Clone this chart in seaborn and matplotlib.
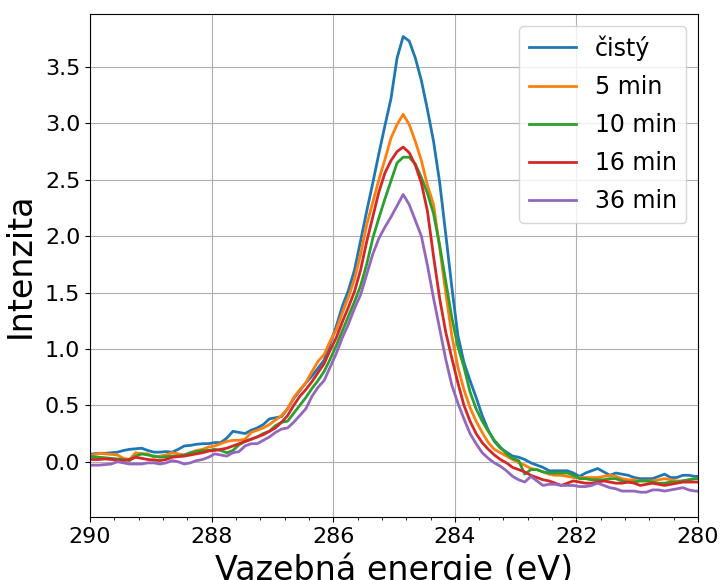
import numpy as np
import pandas as pd
import matplotlib
matplotlib.use("Agg")
import matplotlib.pyplot as plt
from matplotlib.ticker import AutoMinorLocator, MultipleLocator
import seaborn as sns

# binding energy grid (eV), 0.1 eV step
energy = np.round(np.linspace(290.05, 279.95, 102), 2)

cisty = [0.06, 0.07, 0.075, 0.075, 0.08, 0.085, 0.10, 0.11, 0.115, 0.12,
         0.10, 0.085, 0.085, 0.09, 0.085, 0.11, 0.14, 0.145, 0.155, 0.16,
         0.16, 0.17, 0.17, 0.21, 0.27, 0.26, 0.25, 0.28, 0.30, 0.33,
         0.38, 0.39, 0.40, 0.47, 0.56, 0.63, 0.70, 0.76, 0.83, 0.90,
         1.05, 1.20, 1.38, 1.52, 1.70, 1.96, 2.22, 2.47, 2.73, 2.98,
         3.22, 3.58, 3.77, 3.73, 3.58, 3.38, 3.12, 2.84, 2.48, 2.02,
         1.55, 1.12, 0.88, 0.72, 0.57, 0.41, 0.28, 0.18, 0.12, 0.085,
         0.05, 0.04, 0.02, -0.01, -0.03, -0.05, -0.08, -0.08, -0.08, -0.08,
         -0.10, -0.13, -0.10, -0.08, -0.06, -0.09, -0.12, -0.10, -0.11, -0.12,
         -0.14, -0.15, -0.15, -0.15, -0.13, -0.11, -0.14, -0.14, -0.12, -0.12,
         -0.13, -0.13]

min5 = [0.04, 0.06, 0.075, 0.07, 0.065, 0.06, 0.03, 0.02, 0.08, 0.07,
        0.07, 0.04, 0.05, 0.06, 0.08, 0.07, 0.06, 0.08, 0.10, 0.11,
        0.13, 0.14, 0.16, 0.18, 0.19, 0.19, 0.20, 0.26, 0.28, 0.30,
        0.33, 0.37, 0.41, 0.47, 0.57, 0.64, 0.70, 0.80, 0.89, 0.95,
        1.07, 1.17, 1.32, 1.46, 1.62, 1.84, 2.10, 2.30, 2.50, 2.68,
        2.87, 2.99, 3.08, 2.99, 2.84, 2.67, 2.45, 2.28, 1.90, 1.50,
        1.12, 0.84, 0.64, 0.48, 0.36, 0.26, 0.17, 0.11, 0.08, 0.05,
        0.02, -0.01, -0.03, -0.06, -0.07, -0.09, -0.11, -0.12, -0.12, -0.13,
        -0.14, -0.14, -0.14, -0.14, -0.14, -0.13, -0.12, -0.13, -0.15, -0.16,
        -0.16, -0.17, -0.17, -0.17, -0.16, -0.15, -0.16, -0.17, -0.17, -0.16,
        -0.15, -0.15]

min10 = [0.05, 0.045, 0.04, 0.035, 0.03, 0.025, 0.02, 0.01, 0.05, 0.07,
         0.06, 0.05, 0.04, 0.045, 0.05, 0.05, 0.06, 0.08, 0.09, 0.10,
         0.10, 0.11, 0.10, 0.08, 0.10, 0.15, 0.18, 0.20, 0.22, 0.25,
         0.27, 0.32, 0.35, 0.36, 0.43, 0.50, 0.57, 0.65, 0.72, 0.80,
         0.91, 1.03, 1.16, 1.29, 1.42, 1.56, 1.75, 1.98, 2.16, 2.33,
         2.49, 2.65, 2.70, 2.70, 2.64, 2.52, 2.38, 2.20, 1.92, 1.60,
         1.28, 1.02, 0.84, 0.62, 0.47, 0.36, 0.27, 0.19, 0.13, 0.07,
         0.03, 0.01, -0.11, -0.07, -0.07, -0.09, -0.10, -0.10, -0.10, -0.10,
         -0.12, -0.15, -0.15, -0.16, -0.16, -0.16, -0.15, -0.15, -0.17, -0.18,
         -0.18, -0.17, -0.17, -0.18, -0.19, -0.19, -0.18, -0.18, -0.17, -0.16,
         -0.15, -0.15]

min16 = [0.02, 0.02, 0.02, 0.025, 0.02, 0.015, 0.01, 0.02, 0.04, 0.03,
         0.02, 0.015, 0.01, 0.02, 0.04, 0.045, 0.05, 0.06, 0.07, 0.08,
         0.095, 0.10, 0.11, 0.12, 0.14, 0.16, 0.18, 0.20, 0.22, 0.24,
         0.27, 0.30, 0.35, 0.41, 0.50, 0.58, 0.64, 0.71, 0.79, 0.87,
         0.99, 1.10, 1.24, 1.37, 1.51, 1.70, 1.95, 2.17, 2.39, 2.56,
         2.67, 2.75, 2.79, 2.74, 2.63, 2.47, 2.22, 1.82, 1.45, 1.15,
         0.92, 0.70, 0.50, 0.36, 0.25, 0.17, 0.11, 0.06, 0.02, -0.01,
         -0.05, -0.07, -0.09, -0.12, -0.14, -0.16, -0.17, -0.19, -0.21, -0.19,
         -0.17, -0.18, -0.19, -0.19, -0.18, -0.17, -0.18, -0.19, -0.19, -0.18,
         -0.19, -0.21, -0.20, -0.19, -0.20, -0.21, -0.20, -0.19, -0.18, -0.18,
         -0.18, -0.18]

min36 = [-0.03, -0.03, -0.03, -0.025, -0.02, 0.0, -0.01, -0.02, -0.02, -0.02,
         -0.01, -0.01, -0.02, -0.01, 0.01, 0.0, -0.02, -0.01, 0.01, 0.02,
         0.04, 0.07, 0.06, 0.05, 0.08, 0.09, 0.14, 0.16, 0.16, 0.19,
         0.22, 0.26, 0.29, 0.30, 0.35, 0.41, 0.47, 0.58, 0.66, 0.72,
         0.84, 0.96, 1.10, 1.22, 1.36, 1.48, 1.66, 1.84, 1.98, 2.08,
         2.17, 2.27, 2.37, 2.28, 2.14, 2.00, 1.74, 1.45, 1.18, 0.91,
         0.68, 0.52, 0.38, 0.25, 0.16, 0.08, 0.03, -0.01, -0.04, -0.08,
         -0.13, -0.16, -0.18, -0.13, -0.17, -0.21, -0.20, -0.20, -0.21, -0.21,
         -0.21, -0.22, -0.22, -0.21, -0.19, -0.21, -0.23, -0.24, -0.26, -0.26,
         -0.26, -0.27, -0.27, -0.25, -0.25, -0.26, -0.25, -0.24, -0.23, -0.25,
         -0.26, -0.26]

series_names = ["čistý", "5 min", "10 min", "16 min", "36 min"]
series_values = [cisty, min5, min10, min16, min36]

plt.rcParams["font.family"] = ["DejaVu Sans"]
plt.rcParams["font.size"] = 16

fig = plt.figure(figsize=(7.22, 5.80), dpi=100)
ax = fig.add_axes([0.1247, 0.1086, 0.8421, 0.8673])

colors = sns.color_palette("tab10", 5)
for name, vals, c in zip(series_names, series_values, colors):
    sns.lineplot(x=energy, y=vals, ax=ax, color=c, label=name, linewidth=2)

ax.set_xlim(290, 280)
ax.set_ylim(-0.49, 3.97)
ax.xaxis.set_major_locator(MultipleLocator(2))
ax.xaxis.set_minor_locator(AutoMinorLocator(5))
ax.yaxis.set_major_locator(MultipleLocator(0.5))
ax.tick_params(labelsize=16)
ax.grid(True, color="#b0b0b0", linewidth=0.8)
ax.set_axisbelow(True)
ax.set_xlabel("Vazebná energie (eV)", fontsize=24)
ax.set_ylabel("Intenzita", fontsize=24, labelpad=6)
ax.legend(loc="upper right", fontsize=17, labelspacing=0.6)

fig.savefig("out.png", dpi=100)
